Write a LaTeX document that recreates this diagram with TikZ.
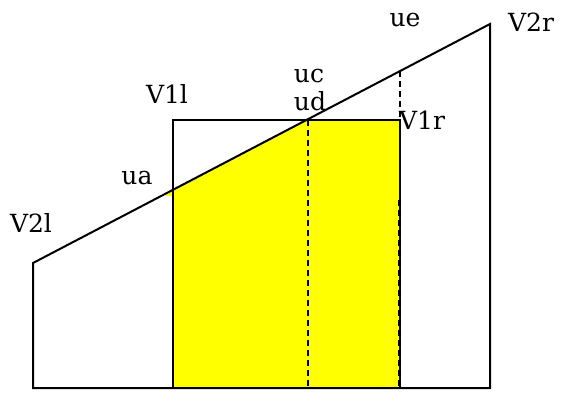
\documentclass[tikz,border=0pt]{standalone}
\usepackage{fontspec}
\setmainfont{DejaVu Serif}
\definecolor{pureyellow}{RGB}{255,255,0}
\begin{document}
\begin{tikzpicture}[x=1pt,y=-1pt,line width=2pt,
  lbl/.style={inner sep=0pt,font=\fontsize{25}{28}\selectfont},
  dsh/.style={dash pattern=on 6pt off 4pt}]
\useasboundingbox (0,0) rectangle (561,392);
% corners of the big outline
\coordinate (BL) at (33,388);
\coordinate (TL) at (33,263);
\coordinate (TR) at (490,24);
\coordinate (BR) at (490,388);
% inner rectangle
\coordinate (RBL) at (173,388);
\coordinate (RTL) at (173,120);
\coordinate (RTR) at (400,120);
\coordinate (RBR) at (400,388);
% points on the slanted line
\coordinate (A) at (173,189.8);
\coordinate (D) at (308,119.5);
\coordinate (E) at (400,71.2);
\coordinate (Dbot) at (308,388);
\coordinate (Rmid) at (399,200);
\coordinate (Rbot) at (399,388);
% yellow area
\fill[pureyellow] (RBL) -- (173,196) -- (165,196) -- (A) -- (D) -- (RTR) -- (RBR) -- cycle;
% outlines
\draw (BL) -- (TL) -- (TR) -- (BR) -- cycle;
\draw (RBL) -- (RTL) -- (RTR) -- (RBR);
% dashed lines
\draw[dsh] (D) -- (Dbot);
\draw[dsh] (E) -- (RTR);
\draw[dsh] (Rmid) -- (Rbot);
% labels
\node[lbl] (v2l) at (31,223) {V2l};
\node[lbl] (v1l) at (167,94) {V1l};
\node[lbl] (ua) at (137,178) {ua};
\node[lbl] (uc) at (309,76) {uc};
\node[lbl] (ud) at (310,101) {ud};
\node[lbl] (ue) at (405,20) {ue};
\node[lbl] (v2r) at (531,22) {V2r};
\node[lbl] (v1r) at (422,120) {V1r};
\end{tikzpicture}
\end{document}
